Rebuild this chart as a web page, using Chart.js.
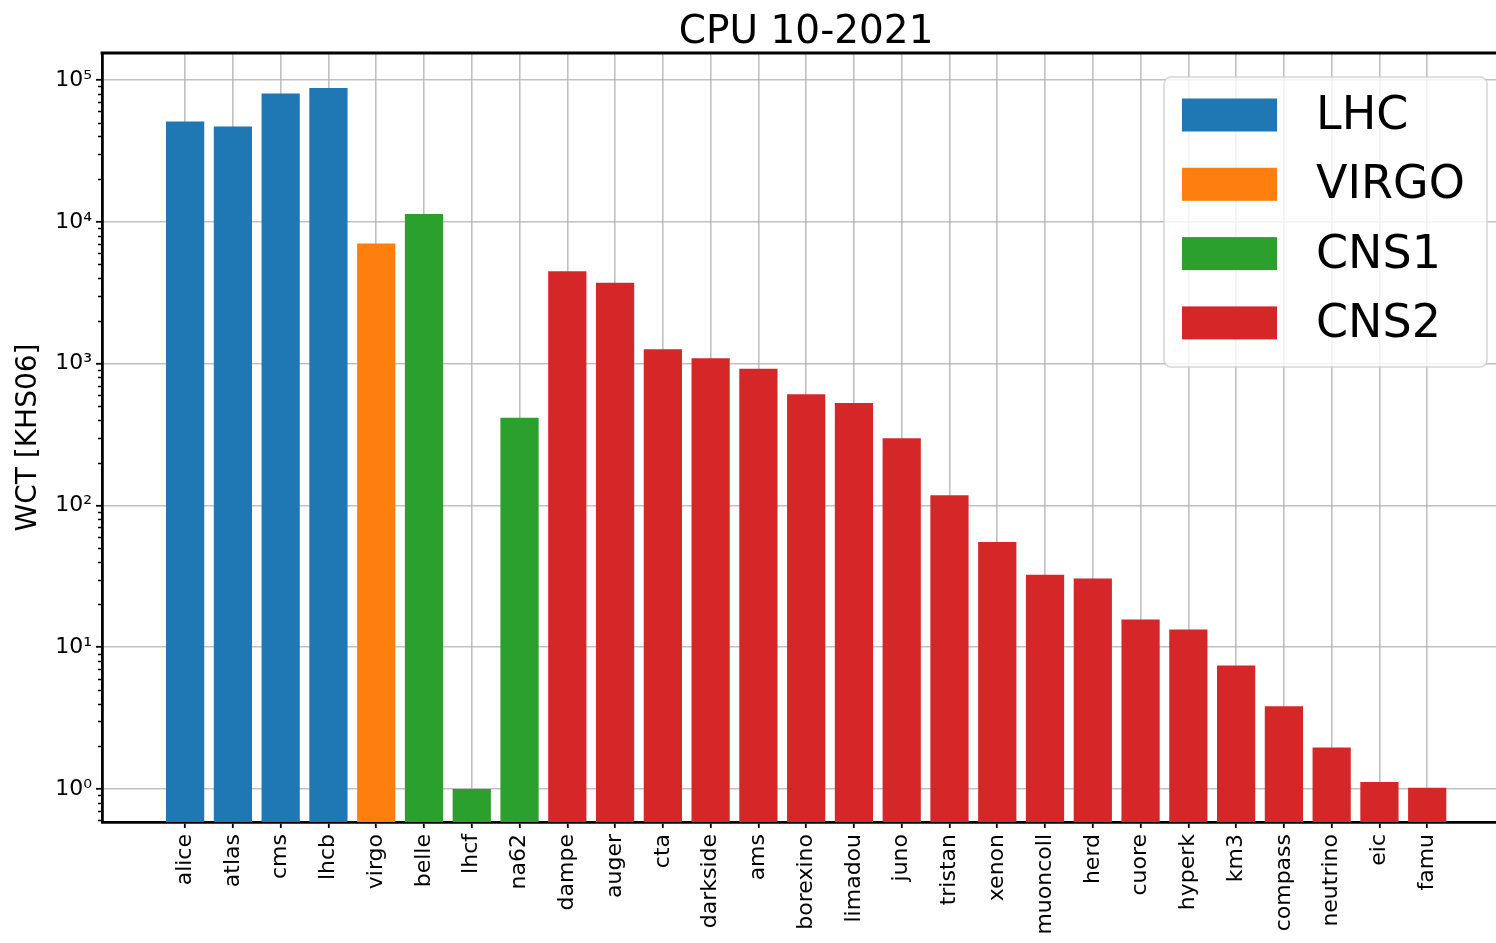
<!DOCTYPE html>
<html>
<head>
<meta charset="utf-8">
<script src="https://cdn.jsdelivr.net/npm/chart.js@4.4.1/dist/chart.umd.min.js"></script>
<style>
  html, body { margin: 0; padding: 0; background: #fff; }
  canvas { display: block; }
</style>
</head>
<body>
<canvas id="cpuChart" width="1496" height="943"></canvas>
<script>
const categories = ["alice", "atlas", "cms", "lhcb", "virgo", "belle", "lhcf", "na62",
    "dampe", "auger", "cta", "darkside", "ams", "borexino", "limadou", "juno", "tristan",
    "xenon", "muoncoll", "herd", "cuore", "hyperk", "km3", "compass", "neutrino", "eic", "famu"];
const wct = [50900, 46950, 80300, 87700, 7020, 11370, 1.0, 415,
    4480, 3720, 1260, 1090, 920, 607, 527, 297, 117.7,
    55.1, 32.4, 30.5, 15.7, 13.3, 7.43, 3.83, 1.96, 1.12, 1.02];
const groupOf = ["LHC", "LHC", "LHC", "LHC", "VIRGO", "CNS1", "CNS1", "CNS1",
    "CNS2", "CNS2", "CNS2", "CNS2", "CNS2", "CNS2", "CNS2", "CNS2", "CNS2",
    "CNS2", "CNS2", "CNS2", "CNS2", "CNS2", "CNS2", "CNS2", "CNS2", "CNS2", "CNS2"];
const groups = ["LHC", "VIRGO", "CNS1", "CNS2"];
const groupColors = ["#1f77b4", "#ff7f0e", "#2ca02c", "#d62728"];

const yTicks = [1, 10, 100, 1000, 10000, 100000];
const yTickLabels = ["10\u2070", "10\u00b9", "10\u00b2", "10\u00b3", "10\u2074", "10\u2075"];

const titleText = "CPU 10-2021";
const FONT = "'DejaVu Sans', 'Liberation Sans', sans-serif";

// the axes run from -1.74 to 27.74 but the picture is cut at about 27.44
const xMin = -1.74, xMaxFull = 27.74, xMaxVisible = 27.44;

// title over the axes centre, minor log ticks, top spine and the boxed legend
const extras = {
    id: "extras",
    afterDraw(chart) {
        const ctx = chart.ctx;
        const area = chart.chartArea;
        const x = chart.scales.x;
        const y = chart.scales.y;
        ctx.save();

        ctx.fillStyle = "#000";
        ctx.font = "39px " + FONT;
        ctx.textAlign = "center";
        ctx.textBaseline = "alphabetic";
        ctx.fillText(titleText, x.getPixelForValue((xMin + xMaxFull) / 2), area.top - 10);

        ctx.strokeStyle = "#000";
        ctx.lineWidth = 1.5;
        for (let d = 0.1; d <= 1e5; d *= 10) {
            for (let k = 2; k <= 9; k++) {
                const v = k * d;
                if (v < y.min || v > y.max) continue;
                const py = Math.round(y.getPixelForValue(v)) + 0.5;
                ctx.beginPath();
                ctx.moveTo(area.left - 4, py);
                ctx.lineTo(area.left, py);
                ctx.stroke();
            }
        }
        // top spine
        ctx.lineWidth = 2.8;
        ctx.beginPath();
        ctx.moveTo(area.left - 1.4, area.top);
        ctx.lineTo(chart.width, area.top);
        ctx.stroke();

        // legend
        const bx = 1164, by = area.top + 24, bw = 323, bh = 290;
        ctx.beginPath();
        ctx.roundRect(bx, by, bw, bh, 7);
        ctx.fillStyle = "rgba(255,255,255,0.8)";
        ctx.fill();
        ctx.strokeStyle = "rgba(204,204,204,0.8)";
        ctx.lineWidth = 1.5;
        ctx.stroke();
        ctx.font = "46px " + FONT;
        ctx.textBaseline = "middle";
        ctx.textAlign = "left";
        groups.forEach((g, i) => {
            const cy = by + 38 + i * 69.3;
            ctx.fillStyle = groupColors[i];
            ctx.fillRect(bx + 18, cy - 16.5, 95, 33);
            ctx.fillStyle = "#000";
            ctx.fillText(g, bx + 152, cy + 2);
        });
        ctx.restore();
    }
};

const ctx = document.getElementById("cpuChart").getContext("2d");
const chart = new Chart(ctx, {
    type: "bar",
    data: {
        datasets: [{
            label: "WCT",
            data: wct.map((v, i) => ({ x: i, y: v })),
            backgroundColor: groupOf.map(g => groupColors[groups.indexOf(g)]),
            borderWidth: 0,
            barPercentage: 0.8,
            categoryPercentage: 1.0
        }]
    },
    options: {
        responsive: false,
        devicePixelRatio: 1,
        animation: false,
        layout: { padding: { left: 0, right: 0, top: 53, bottom: 0 } },
        plugins: {
            legend: { display: false },
            tooltip: { enabled: false },
            title: { display: false }
        },
        scales: {
            x: {
                type: "linear",
                offset: false,
                min: xMin,
                max: xMaxVisible,
                z: 1,
                afterBuildTicks: scale => {
                    scale.ticks = categories.map((c, i) => ({ value: i }));
                },
                afterFit: scale => { scale.height = 121; },
                ticks: {
                    autoSkip: false,
                    minRotation: 90,
                    maxRotation: 90,
                    color: "#000",
                    padding: 6,
                    font: { family: FONT, size: 22 },
                    callback: value => categories[value]
                },
                grid: {
                    offset: false,
                    color: "rgba(176,176,176,0.8)",
                    lineWidth: 1.6,
                    tickColor: "#000",
                    tickLength: 6,
                    tickWidth: 1.8
                },
                border: { display: true, color: "#000", width: 2.8 }
            },
            y: {
                type: "logarithmic",
                min: 0.585,
                max: 155000,
                z: 1,
                afterBuildTicks: scale => {
                    scale.ticks = yTicks.map(v => ({ value: v, major: true }));
                },
                afterFit: scale => { scale.width = 102; },
                ticks: {
                    color: "#000",
                    padding: 4,
                    font: { family: FONT, size: 22 },
                    callback: value => yTickLabels[yTicks.indexOf(value)]
                },
                grid: {
                    color: "rgba(176,176,176,0.8)",
                    lineWidth: 1.6,
                    tickColor: "#000",
                    tickLength: 6,
                    tickWidth: 1.8
                },
                border: { display: true, color: "#000", width: 2.8 },
                title: {
                    display: true,
                    text: "WCT [KHS06]",
                    color: "#000",
                    font: { family: FONT, size: 28 },
                    padding: { top: 12, bottom: 0 }
                }
            }
        }
    },
    plugins: [extras]
});
</script>
</body>
</html>
